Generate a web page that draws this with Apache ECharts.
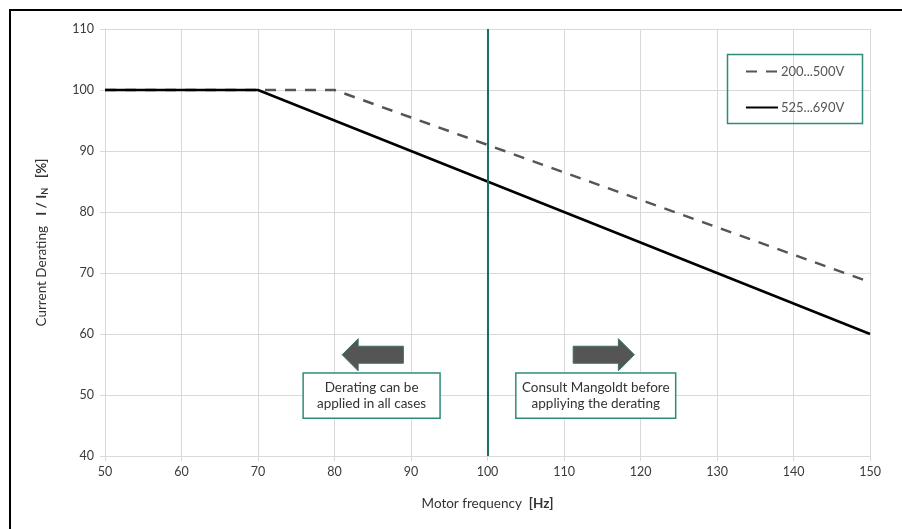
<!DOCTYPE html>
<html>
<head>
<meta charset="utf-8">
<script src="https://cdn.jsdelivr.net/npm/echarts@6/dist/echarts.min.js"></script>
<style>html,body{margin:0;padding:0;background:#fff}#c{width:902px;height:529px}</style>
</head>
<body>
<div id="c"></div>
<script>
// ---- data ----
const seriesNames = ['200...500V', '525...690V'];
const dashedData = [[50, 100], [80, 100], [150, 68.5]];
const solidData = [[50, 100], [70, 100], [150, 60]];
const xTicks = [50, 60, 70, 80, 90, 100, 110, 120, 130, 140, 150];
const yTicks = [40, 50, 60, 70, 80, 90, 100, 110];
const limitFreq = 100;
const leftNote = 'Derating can be\napplied in all cases';
const rightNote = 'Consult Mangoldt before\nappliying the derating';
// annotation anchors in data coordinates
const leftBox = [75.9, 53.6, 93.8, 46.2];
const rightBox = [103.7, 53.6, 124.6, 46.2];
const leftArrow = [81.0, 89.0, 56.6];   // tip x, tail x, center y
const rightArrow = [119.2, 111.2, 56.6];

const teal = '#2f8c79';
const chart = echarts.init(document.getElementById('c'), null, {renderer: 'canvas'});
const font = 'Lato, "Open Sans", sans-serif';

chart.setOption({
  animation: false,
  backgroundColor: '#fff',
  grid: {left: 105, right: 32, top: 29, bottom: 73},
  textStyle: {fontFamily: font},
  legend: {
    orient: 'vertical', left: 745, top: 65, padding: 0,
    itemWidth: 32, itemHeight: 14, itemGap: 23,
    itemStyle: {opacity: 0},
    textStyle: {fontSize: 13, color: '#555', fontFamily: font, padding: [0, 0, 0, -2]},
    data: seriesNames
  },
  xAxis: {
    type: 'value', min: xTicks[0], max: xTicks[xTicks.length - 1], interval: 10,
    name: 'Motor frequency  {b|[Hz]}', nameLocation: 'middle', nameGap: 41,
    nameTextStyle: {fontSize: 13.5, color: '#333', fontFamily: font, rich: {b: {fontWeight: 'bold', fontSize: 13.5, color: '#333'}}},
    axisLine: {show: true, lineStyle: {color: '#d9d9d9', width: 1}},
    axisTick: {show: true, length: 5, lineStyle: {color: '#d9d9d9'}},
    axisLabel: {fontSize: 12.5, color: '#3a3a3a', margin: 9},
    splitLine: {show: true, lineStyle: {color: '#d9d9d9', width: 1}}
  },
  yAxis: {
    type: 'value', min: yTicks[0], max: yTicks[yTicks.length - 1], interval: 10,
    name: 'Current Derating   {b|I / I}{s|N}{b|   [%]}', nameLocation: 'middle', nameGap: 55, nameRotate: 90,
    nameTextStyle: {fontSize: 13.5, color: '#333', fontFamily: font,
      rich: {b: {fontWeight: 'bold', fontSize: 13.5, color: '#333'}, s: {fontWeight: 'bold', fontSize: 9, color: '#333', verticalAlign: 'bottom', padding: [7, 0, 0, 0]}}},
    axisLine: {show: true, lineStyle: {color: '#d9d9d9', width: 1}},
    axisTick: {show: true, length: 5, lineStyle: {color: '#d9d9d9'}},
    axisLabel: {fontSize: 12.5, color: '#3a3a3a', margin: 11},
    splitLine: {show: true, lineStyle: {color: '#d9d9d9', width: 1}}
  },
  series: [
    {
      name: seriesNames[0], type: 'line', data: dashedData, symbol: 'none',
      lineStyle: {color: '#555', width: 2.5, type: [11, 9]}, itemStyle: {color: '#555'}
    },
    {
      name: seriesNames[1], type: 'line', data: solidData, symbol: 'none',
      lineStyle: {color: '#000', width: 2.5}, itemStyle: {color: '#000'},
      markLine: {
        silent: true, symbol: ['none', 'none'], label: {show: false},
        lineStyle: {color: '#17705f', width: 2, type: 'solid'},
        data: [{xAxis: limitFreq}]
      }
    }
  ]
});

function px(x, y) { return chart.convertToPixel({gridIndex: 0}, [x, y]); }

function boxEls(b, text) {
  const p1 = px(b[0], b[1]), p2 = px(b[2], b[3]);
  return [
    {type: 'rect', shape: {x: p1[0], y: p1[1], width: p2[0] - p1[0], height: p2[1] - p1[1]},
     style: {fill: '#fff', stroke: teal, lineWidth: 1.5}, z: 10},
    {type: 'text', x: (p1[0] + p2[0]) / 2, y: (p1[1] + p2[1]) / 2,
     style: {text: text, align: 'center', verticalAlign: 'middle', fill: '#333', fontSize: 13.5, lineHeight: 16, fontFamily: font}, z: 11}
  ];
}
function arrowEl(a) {
  const tip = px(a[0], a[2]), tail = px(a[1], a[2]);
  const dir = tail[0] > tip[0] ? 1 : -1;
  const cy = tip[1];
  const headLen = 16, headH = 16, bodyH = 8.5;
  const bx = tip[0] + dir * headLen;
  return {
    type: 'polygon', z: 10,
    shape: {points: [
      [tip[0], cy], [bx, cy - headH], [bx, cy - bodyH], [tail[0], cy - bodyH],
      [tail[0], cy + bodyH], [bx, cy + bodyH], [bx, cy + headH]
    ]},
    style: {fill: '#555', stroke: '#3d6e64', lineWidth: 1}
  };
}

const els = [];
els.push({type: 'rect', shape: {x: 10, y: 10, width: 1200, height: 1200}, style: {fill: 'none', stroke: '#000', lineWidth: 2}, z: 20});
// legend frame
els.push({type: 'rect', shape: {x: 727.5, y: 54.5, width: 135, height: 69}, style: {fill: 'none', stroke: teal, lineWidth: 1.5}, z: 5});
els.push(...boxEls(leftBox, leftNote));
els.push(...boxEls(rightBox, rightNote));
els.push(arrowEl(leftArrow));
els.push(arrowEl(rightArrow));
chart.setOption({graphic: {elements: els}});
</script>
</body>
</html>
